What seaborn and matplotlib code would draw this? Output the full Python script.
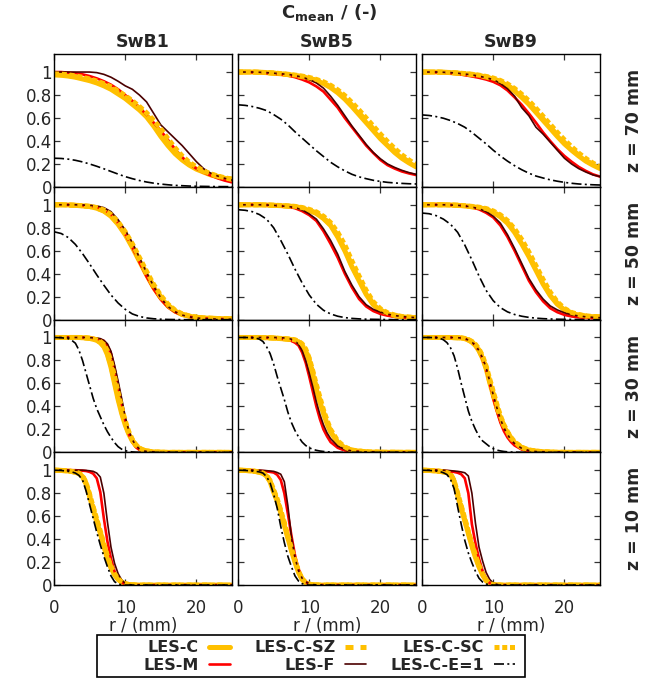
import matplotlib
matplotlib.use("Agg")
import matplotlib.pyplot as plt
from matplotlib.patches import Rectangle
import numpy as np
import pandas as pd
import seaborn as sns

# radial sampling positions (mm): uniform far from the nozzle, finer near it
R_FAR = [0, 1, 2, 3, 4, 5, 6, 7, 8, 9, 10, 11, 12, 13, 14, 15, 16, 17, 18, 19, 20, 21, 22, 23, 24, 25]
R_NEAR = [0, 1, 2, 2.5, 3, 3.5, 4, 4.5, 5, 5.5, 6, 6.5, 7, 7.5, 8, 8.5, 9, 9.5, 10, 10.5, 11, 11.5,
          12, 12.5, 13, 14, 15, 16, 18, 20, 25]
CASES = ["SwB1", "SwB5", "SwB9"]
HEIGHTS = ["z = 70 mm", "z = 50 mm", "z = 30 mm", "z = 10 mm"]
R_BY_HEIGHT = [R_FAR, R_FAR, R_NEAR, R_NEAR]
MODELS = ["LES-C", "LES-M", "LES-C-SZ", "LES-F", "LES-C-SC", "LES-C-E=1"]
Y_TICKS = [0, 0.2, 0.4, 0.6, 0.8, 1]
Y_TICK_LABELS = ["0", "0.2", "0.4", "0.6", "0.8", "1"]
X_TICKS = [0, 10, 20]

# ---- mean progress variable profiles, one list per case (SwB1, SwB5, SwB9) ----
# z = 70 mm
LES_C_Z70 = [
    [0.975, 0.972, 0.965, 0.955, 0.94, 0.925, 0.905, 0.88, 0.85, 0.81, 0.77, 0.72, 0.67, 0.61, 0.53, 0.44, 0.36, 0.29, 0.235, 0.19, 0.155, 0.13, 0.105, 0.09, 0.075, 0.065],
    [1, 1, 1, 0.998, 0.995, 0.99, 0.985, 0.978, 0.97, 0.96, 0.945, 0.925, 0.9, 0.865, 0.82, 0.765, 0.7, 0.63, 0.56, 0.49, 0.42, 0.36, 0.3, 0.25, 0.21, 0.175],
    [1, 1, 1, 0.998, 0.995, 0.99, 0.985, 0.978, 0.97, 0.955, 0.94, 0.915, 0.88, 0.835, 0.78, 0.72, 0.65, 0.58, 0.51, 0.44, 0.375, 0.32, 0.27, 0.225, 0.19, 0.16],
]
LES_C_SZ_Z70 = [
    [0.98, 0.977, 0.97, 0.96, 0.947, 0.932, 0.913, 0.89, 0.86, 0.82, 0.78, 0.735, 0.685, 0.625, 0.55, 0.465, 0.385, 0.31, 0.25, 0.2, 0.165, 0.135, 0.11, 0.092, 0.078, 0.067],
    [1, 1, 1, 0.998, 0.995, 0.99, 0.985, 0.978, 0.97, 0.96, 0.947, 0.928, 0.905, 0.872, 0.83, 0.775, 0.712, 0.645, 0.575, 0.505, 0.435, 0.372, 0.312, 0.26, 0.218, 0.182],
    [1, 1, 1, 0.998, 0.995, 0.99, 0.985, 0.978, 0.97, 0.957, 0.942, 0.918, 0.885, 0.842, 0.79, 0.73, 0.662, 0.592, 0.522, 0.452, 0.387, 0.33, 0.278, 0.232, 0.196, 0.165],
]
LES_C_SC_Z70 = [
    [0.985, 0.982, 0.976, 0.967, 0.955, 0.94, 0.922, 0.9, 0.872, 0.835, 0.795, 0.75, 0.7, 0.645, 0.58, 0.505, 0.42, 0.34, 0.27, 0.215, 0.175, 0.14, 0.115, 0.095, 0.08, 0.068],
    [1, 1, 1, 0.998, 0.996, 0.992, 0.987, 0.981, 0.974, 0.965, 0.953, 0.936, 0.915, 0.885, 0.845, 0.795, 0.735, 0.67, 0.6, 0.53, 0.46, 0.395, 0.335, 0.28, 0.235, 0.195],
    [1, 1, 1, 0.998, 0.996, 0.992, 0.987, 0.981, 0.973, 0.962, 0.948, 0.927, 0.897, 0.857, 0.807, 0.75, 0.685, 0.615, 0.545, 0.475, 0.41, 0.35, 0.295, 0.248, 0.208, 0.175],
]
LES_M_Z70 = [
    [1, 1, 0.995, 0.99, 0.98, 0.965, 0.945, 0.92, 0.89, 0.85, 0.8, 0.75, 0.69, 0.63, 0.56, 0.49, 0.41, 0.33, 0.26, 0.2, 0.16, 0.125, 0.1, 0.075, 0.055, 0.04],
    [1, 1, 0.998, 0.995, 0.99, 0.985, 0.978, 0.97, 0.955, 0.935, 0.91, 0.875, 0.83, 0.76, 0.69, 0.6, 0.52, 0.44, 0.36, 0.295, 0.235, 0.19, 0.16, 0.135, 0.118, 0.104],
    [1, 1, 0.998, 0.995, 0.99, 0.983, 0.973, 0.962, 0.95, 0.935, 0.915, 0.885, 0.84, 0.78, 0.715, 0.64, 0.56, 0.475, 0.4, 0.33, 0.27, 0.22, 0.175, 0.14, 0.11, 0.09],
]
LES_F_Z70 = [
    [1, 1, 1, 1, 1, 1, 0.995, 0.98, 0.955, 0.92, 0.88, 0.85, 0.8, 0.74, 0.64, 0.54, 0.48, 0.42, 0.36, 0.29, 0.22, 0.16, 0.12, 0.095, 0.075, 0.06],
    [1, 1, 1, 0.998, 0.995, 0.99, 0.985, 0.98, 0.97, 0.955, 0.935, 0.905, 0.86, 0.79, 0.71, 0.62, 0.53, 0.45, 0.37, 0.3, 0.245, 0.2, 0.17, 0.145, 0.125, 0.11],
    [1, 1, 1, 0.998, 0.995, 0.99, 0.983, 0.975, 0.965, 0.95, 0.935, 0.9, 0.855, 0.79, 0.69, 0.62, 0.52, 0.46, 0.39, 0.32, 0.25, 0.2, 0.16, 0.13, 0.105, 0.09],
]
LES_E1_Z70 = [
    [0.25, 0.248, 0.242, 0.232, 0.218, 0.2, 0.18, 0.158, 0.135, 0.112, 0.09, 0.072, 0.056, 0.043, 0.033, 0.025, 0.019, 0.014, 0.011, 0.008, 0.006, 0.005, 0.004, 0.003, 0.003, 0.002],
    [0.715, 0.71, 0.7, 0.685, 0.665, 0.63, 0.59, 0.54, 0.48, 0.425, 0.37, 0.315, 0.265, 0.215, 0.175, 0.14, 0.11, 0.088, 0.072, 0.058, 0.048, 0.04, 0.035, 0.031, 0.028, 0.026],
    [0.627, 0.622, 0.612, 0.598, 0.578, 0.552, 0.52, 0.475, 0.425, 0.375, 0.32, 0.27, 0.225, 0.185, 0.15, 0.12, 0.095, 0.078, 0.062, 0.05, 0.04, 0.032, 0.026, 0.022, 0.019, 0.017],
]

# z = 50 mm
LES_C_Z50 = [
    [1, 1, 0.998, 0.995, 0.99, 0.985, 0.97, 0.945, 0.9, 0.83, 0.74, 0.63, 0.51, 0.39, 0.28, 0.19, 0.12, 0.075, 0.045, 0.03, 0.02, 0.015, 0.012, 0.01, 0.008, 0.007],
    [1, 1, 1, 1, 0.998, 0.995, 0.992, 0.988, 0.985, 0.97, 0.95, 0.925, 0.88, 0.82, 0.72, 0.6, 0.46, 0.34, 0.22, 0.13, 0.08, 0.05, 0.035, 0.025, 0.02, 0.018],
    [1, 1, 1, 1, 0.998, 0.995, 0.99, 0.983, 0.975, 0.96, 0.935, 0.895, 0.84, 0.76, 0.66, 0.55, 0.43, 0.31, 0.21, 0.135, 0.085, 0.055, 0.04, 0.03, 0.026, 0.024],
]
LES_C_SZ_Z50 = [
    [1, 1, 0.998, 0.995, 0.99, 0.985, 0.972, 0.948, 0.905, 0.838, 0.75, 0.64, 0.52, 0.4, 0.29, 0.198, 0.126, 0.078, 0.047, 0.031, 0.021, 0.016, 0.012, 0.01, 0.008, 0.007],
    [1, 1, 1, 1, 0.998, 0.995, 0.992, 0.988, 0.984, 0.972, 0.953, 0.928, 0.886, 0.826, 0.73, 0.61, 0.472, 0.35, 0.23, 0.137, 0.084, 0.053, 0.037, 0.026, 0.021, 0.018],
    [1, 1, 1, 1, 0.998, 0.995, 0.99, 0.983, 0.975, 0.961, 0.937, 0.9, 0.847, 0.77, 0.672, 0.562, 0.442, 0.322, 0.22, 0.142, 0.09, 0.058, 0.042, 0.031, 0.027, 0.024],
]
LES_C_SC_Z50 = [
    [1, 1, 0.998, 0.996, 0.992, 0.987, 0.976, 0.955, 0.915, 0.85, 0.765, 0.66, 0.54, 0.42, 0.305, 0.21, 0.135, 0.083, 0.05, 0.033, 0.022, 0.016, 0.012, 0.01, 0.008, 0.007],
    [1, 1, 1, 1, 0.998, 0.996, 0.994, 0.99, 0.986, 0.976, 0.96, 0.938, 0.9, 0.845, 0.76, 0.65, 0.51, 0.38, 0.255, 0.155, 0.095, 0.06, 0.04, 0.028, 0.022, 0.019],
    [1, 1, 1, 1, 0.998, 0.996, 0.992, 0.986, 0.979, 0.967, 0.946, 0.912, 0.862, 0.79, 0.698, 0.59, 0.47, 0.35, 0.24, 0.155, 0.098, 0.063, 0.045, 0.033, 0.028, 0.025],
]
LES_M_Z50 = [
    [1, 1, 1, 0.998, 0.995, 0.99, 0.98, 0.96, 0.915, 0.84, 0.745, 0.63, 0.5, 0.375, 0.265, 0.175, 0.108, 0.065, 0.04, 0.025, 0.016, 0.011, 0.008, 0.006, 0.005, 0.004],
    [1, 1, 1, 1, 0.998, 0.995, 0.99, 0.983, 0.97, 0.945, 0.91, 0.86, 0.77, 0.66, 0.54, 0.4, 0.28, 0.18, 0.115, 0.075, 0.05, 0.035, 0.025, 0.02, 0.016, 0.013],
    [1, 1, 1, 1, 0.998, 0.995, 0.99, 0.978, 0.96, 0.93, 0.89, 0.82, 0.72, 0.6, 0.47, 0.34, 0.24, 0.16, 0.1, 0.065, 0.042, 0.028, 0.02, 0.015, 0.012, 0.01],
]
LES_F_Z50 = [
    [1, 1, 1, 1, 0.998, 0.995, 0.99, 0.975, 0.94, 0.87, 0.78, 0.67, 0.54, 0.41, 0.29, 0.19, 0.115, 0.068, 0.04, 0.024, 0.015, 0.01, 0.007, 0.005, 0.004, 0.003],
    [1, 1, 1, 1, 0.998, 0.995, 0.99, 0.985, 0.975, 0.955, 0.92, 0.875, 0.79, 0.69, 0.57, 0.42, 0.3, 0.2, 0.13, 0.09, 0.065, 0.048, 0.036, 0.028, 0.022, 0.018],
    [1, 1, 1, 1, 0.998, 0.995, 0.99, 0.98, 0.965, 0.94, 0.9, 0.84, 0.74, 0.62, 0.49, 0.36, 0.26, 0.18, 0.12, 0.085, 0.06, 0.042, 0.032, 0.025, 0.02, 0.017],
]
LES_E1_Z50 = [
    [0.765, 0.75, 0.715, 0.655, 0.575, 0.485, 0.39, 0.3, 0.215, 0.145, 0.09, 0.05, 0.028, 0.015, 0.008, 0.004, 0.002, 0.001, 0, 0, 0, 0, 0, 0, 0, 0],
    [0.957, 0.952, 0.94, 0.915, 0.875, 0.8, 0.69, 0.57, 0.44, 0.32, 0.215, 0.135, 0.082, 0.05, 0.03, 0.018, 0.011, 0.007, 0.004, 0.003, 0.002, 0.001, 0, 0, 0, 0],
    [0.928, 0.922, 0.905, 0.875, 0.83, 0.76, 0.65, 0.52, 0.38, 0.255, 0.165, 0.105, 0.068, 0.045, 0.03, 0.02, 0.013, 0.009, 0.006, 0.004, 0.003, 0.002, 0.001, 0, 0, 0],
]

# z = 30 mm
LES_C_Z30 = [
    [1, 1, 1, 1, 1, 1, 0.998, 0.996, 0.992, 0.985, 0.975, 0.955, 0.92, 0.85, 0.74, 0.6, 0.46, 0.34, 0.24, 0.16, 0.1, 0.06, 0.035, 0.02, 0.012, 0.004, 0.001, 0, 0, 0, 0],
    [1, 1, 1, 1, 1, 0.999, 0.998, 0.997, 0.995, 0.993, 0.99, 0.988, 0.985, 0.982, 0.975, 0.96, 0.93, 0.88, 0.8, 0.68, 0.55, 0.44, 0.34, 0.25, 0.18, 0.085, 0.04, 0.018, 0.004, 0.001, 0],
    [1, 1, 1, 1, 1, 1, 1, 0.999, 0.998, 0.996, 0.99, 0.978, 0.96, 0.93, 0.885, 0.82, 0.73, 0.61, 0.5, 0.39, 0.3, 0.225, 0.17, 0.12, 0.085, 0.04, 0.02, 0.01, 0.002, 0, 0],
]
LES_C_SZ_Z30 = [
    [1, 1, 1, 1, 1, 1, 0.998, 0.996, 0.993, 0.986, 0.977, 0.958, 0.925, 0.86, 0.755, 0.62, 0.48, 0.355, 0.25, 0.167, 0.105, 0.063, 0.037, 0.021, 0.012, 0.004, 0.001, 0, 0, 0, 0],
    [1, 1, 1, 1, 1, 0.999, 0.998, 0.997, 0.995, 0.993, 0.99, 0.988, 0.985, 0.982, 0.976, 0.962, 0.933, 0.886, 0.81, 0.69, 0.56, 0.45, 0.35, 0.26, 0.185, 0.088, 0.042, 0.019, 0.004, 0.001, 0],
    [1, 1, 1, 1, 1, 1, 1, 0.999, 0.998, 0.996, 0.99, 0.979, 0.962, 0.933, 0.89, 0.826, 0.738, 0.62, 0.51, 0.4, 0.31, 0.232, 0.175, 0.124, 0.088, 0.042, 0.021, 0.01, 0.002, 0, 0],
]
LES_C_SC_Z30 = [
    [1, 1, 1, 1, 1, 1, 0.999, 0.997, 0.994, 0.989, 0.98, 0.965, 0.94, 0.885, 0.79, 0.66, 0.52, 0.39, 0.275, 0.18, 0.112, 0.066, 0.038, 0.021, 0.012, 0.004, 0.001, 0, 0, 0, 0],
    [1, 1, 1, 1, 1, 0.999, 0.998, 0.997, 0.996, 0.994, 0.992, 0.99, 0.988, 0.985, 0.98, 0.968, 0.945, 0.9, 0.82, 0.71, 0.59, 0.48, 0.37, 0.28, 0.2, 0.1, 0.047, 0.02, 0.005, 0.001, 0],
    [1, 1, 1, 1, 1, 1, 1, 0.999, 0.998, 0.997, 0.992, 0.982, 0.966, 0.94, 0.9, 0.84, 0.75, 0.64, 0.53, 0.42, 0.32, 0.24, 0.18, 0.13, 0.092, 0.045, 0.022, 0.011, 0.002, 0, 0],
]
LES_M_Z30 = [
    [1, 1, 1, 1, 1, 1, 1, 0.999, 0.998, 0.995, 0.99, 0.982, 0.97, 0.93, 0.86, 0.73, 0.58, 0.43, 0.28, 0.16, 0.09, 0.045, 0.022, 0.01, 0.005, 0.001, 0, 0, 0, 0, 0],
    [1, 1, 1, 1, 1, 0.999, 0.998, 0.997, 0.995, 0.993, 0.99, 0.986, 0.98, 0.97, 0.955, 0.93, 0.87, 0.78, 0.66, 0.53, 0.4, 0.29, 0.2, 0.14, 0.09, 0.04, 0.016, 0.007, 0.002, 0, 0],
    [1, 1, 1, 1, 1, 1, 1, 0.999, 0.998, 0.996, 0.99, 0.978, 0.96, 0.93, 0.88, 0.81, 0.72, 0.6, 0.47, 0.36, 0.26, 0.185, 0.13, 0.09, 0.06, 0.025, 0.01, 0.004, 0, 0, 0],
]
LES_F_Z30 = [
    [1, 1, 1, 1, 1, 1, 1, 1, 0.999, 0.997, 0.995, 0.99, 0.975, 0.945, 0.88, 0.76, 0.62, 0.47, 0.31, 0.19, 0.11, 0.06, 0.03, 0.015, 0.008, 0.002, 0, 0, 0, 0, 0],
    [1, 1, 1, 1, 1, 1, 1, 1, 1, 0.999, 0.998, 0.996, 0.992, 0.985, 0.97, 0.94, 0.885, 0.8, 0.69, 0.57, 0.44, 0.33, 0.24, 0.17, 0.12, 0.055, 0.026, 0.012, 0.003, 0.001, 0],
    [1, 1, 1, 1, 1, 1, 1, 0.999, 0.998, 0.996, 0.99, 0.978, 0.96, 0.93, 0.885, 0.82, 0.74, 0.62, 0.5, 0.39, 0.29, 0.215, 0.155, 0.11, 0.077, 0.035, 0.016, 0.007, 0.001, 0, 0],
]
LES_E1_Z30 = [
    [1, 0.998, 0.99, 0.975, 0.95, 0.89, 0.8, 0.69, 0.58, 0.47, 0.38, 0.31, 0.24, 0.18, 0.13, 0.085, 0.05, 0.028, 0.015, 0.008, 0.004, 0.002, 0.001, 0, 0, 0, 0, 0, 0, 0, 0],
    [1, 1, 0.998, 0.995, 0.985, 0.965, 0.92, 0.86, 0.77, 0.66, 0.56, 0.46, 0.35, 0.26, 0.19, 0.135, 0.09, 0.06, 0.04, 0.027, 0.018, 0.012, 0.008, 0.005, 0.003, 0.001, 0, 0, 0, 0, 0],
    [1, 1, 0.998, 0.993, 0.98, 0.955, 0.91, 0.84, 0.73, 0.6, 0.48, 0.36, 0.27, 0.2, 0.14, 0.1, 0.075, 0.05, 0.032, 0.02, 0.013, 0.008, 0.005, 0.003, 0.002, 0.001, 0, 0, 0, 0, 0],
]

# z = 10 mm
LES_C_Z10 = [
    [1, 0.998, 0.993, 0.988, 0.982, 0.97, 0.945, 0.88, 0.77, 0.66, 0.55, 0.45, 0.34, 0.23, 0.15, 0.09, 0.05, 0.025, 0.012, 0.005, 0.002, 0.001, 0, 0, 0, 0, 0, 0, 0, 0, 0],
    [1, 0.998, 0.993, 0.988, 0.982, 0.972, 0.95, 0.9, 0.81, 0.73, 0.63, 0.52, 0.41, 0.3, 0.2, 0.11, 0.05, 0.02, 0.008, 0.003, 0.001, 0, 0, 0, 0, 0, 0, 0, 0, 0, 0],
    [1, 0.998, 0.993, 0.99, 0.985, 0.978, 0.965, 0.9, 0.78, 0.67, 0.56, 0.45, 0.34, 0.24, 0.16, 0.09, 0.04, 0.012, 0.004, 0.001, 0, 0, 0, 0, 0, 0, 0, 0, 0, 0, 0],
]
LES_C_SZ_Z10 = [
    [1, 0.998, 0.993, 0.989, 0.983, 0.972, 0.948, 0.886, 0.78, 0.67, 0.56, 0.46, 0.35, 0.24, 0.156, 0.094, 0.052, 0.026, 0.012, 0.005, 0.002, 0.001, 0, 0, 0, 0, 0, 0, 0, 0, 0],
    [1, 0.998, 0.993, 0.989, 0.983, 0.974, 0.953, 0.905, 0.82, 0.74, 0.64, 0.53, 0.42, 0.31, 0.21, 0.115, 0.053, 0.021, 0.008, 0.003, 0.001, 0, 0, 0, 0, 0, 0, 0, 0, 0, 0],
    [1, 0.998, 0.993, 0.99, 0.986, 0.979, 0.966, 0.905, 0.79, 0.68, 0.57, 0.46, 0.35, 0.25, 0.165, 0.093, 0.042, 0.013, 0.004, 0.001, 0, 0, 0, 0, 0, 0, 0, 0, 0, 0, 0],
]
LES_C_SC_Z10 = [
    [1, 0.998, 0.994, 0.99, 0.985, 0.975, 0.952, 0.893, 0.79, 0.68, 0.575, 0.47, 0.36, 0.25, 0.163, 0.098, 0.055, 0.027, 0.013, 0.005, 0.002, 0.001, 0, 0, 0, 0, 0, 0, 0, 0, 0],
    [1, 0.998, 0.994, 0.99, 0.985, 0.976, 0.956, 0.91, 0.83, 0.75, 0.65, 0.545, 0.43, 0.32, 0.215, 0.12, 0.056, 0.022, 0.009, 0.003, 0.001, 0, 0, 0, 0, 0, 0, 0, 0, 0, 0],
    [1, 0.998, 0.994, 0.991, 0.987, 0.98, 0.968, 0.91, 0.8, 0.69, 0.58, 0.47, 0.36, 0.26, 0.17, 0.097, 0.044, 0.014, 0.004, 0.001, 0, 0, 0, 0, 0, 0, 0, 0, 0, 0, 0],
]
LES_M_Z10 = [
    [1, 1, 1, 1, 1, 0.998, 0.996, 0.993, 0.985, 0.97, 0.93, 0.81, 0.58, 0.38, 0.23, 0.12, 0.055, 0.022, 0.008, 0.003, 0.001, 0, 0, 0, 0, 0, 0, 0, 0, 0, 0],
    [1, 1, 1, 0.998, 0.996, 0.993, 0.99, 0.985, 0.98, 0.96, 0.915, 0.8, 0.62, 0.43, 0.26, 0.14, 0.065, 0.028, 0.01, 0.003, 0.001, 0, 0, 0, 0, 0, 0, 0, 0, 0, 0],
    [1, 1, 1, 0.998, 0.996, 0.993, 0.99, 0.985, 0.978, 0.965, 0.93, 0.8, 0.53, 0.365, 0.23, 0.125, 0.055, 0.018, 0.006, 0.002, 0, 0, 0, 0, 0, 0, 0, 0, 0, 0, 0],
]
LES_F_Z10 = [
    [1, 1, 1, 1, 1, 1, 1, 0.998, 0.995, 0.99, 0.975, 0.94, 0.8, 0.55, 0.33, 0.19, 0.1, 0.045, 0.015, 0.005, 0.001, 0, 0, 0, 0, 0, 0, 0, 0, 0, 0],
    [1, 1, 1, 1, 1, 0.998, 0.996, 0.993, 0.99, 0.98, 0.965, 0.9, 0.69, 0.42, 0.24, 0.125, 0.06, 0.028, 0.013, 0.005, 0.002, 0, 0, 0, 0, 0, 0, 0, 0, 0, 0],
    [1, 1, 1, 1, 1, 0.998, 0.996, 0.993, 0.99, 0.985, 0.978, 0.95, 0.8, 0.54, 0.33, 0.21, 0.11, 0.05, 0.018, 0.006, 0.002, 0, 0, 0, 0, 0, 0, 0, 0, 0, 0],
]
LES_E1_Z10 = [
    [1, 0.998, 0.99, 0.985, 0.975, 0.955, 0.915, 0.82, 0.7, 0.58, 0.46, 0.35, 0.25, 0.16, 0.08, 0.03, 0.01, 0.003, 0, 0, 0, 0, 0, 0, 0, 0, 0, 0, 0, 0, 0],
    [1, 0.998, 0.993, 0.99, 0.985, 0.975, 0.945, 0.89, 0.79, 0.67, 0.51, 0.37, 0.25, 0.16, 0.08, 0.035, 0.012, 0.003, 0, 0, 0, 0, 0, 0, 0, 0, 0, 0, 0, 0, 0],
    [1, 0.998, 0.993, 0.988, 0.978, 0.962, 0.92, 0.84, 0.68, 0.53, 0.39, 0.28, 0.195, 0.12, 0.06, 0.027, 0.01, 0.003, 0, 0, 0, 0, 0, 0, 0, 0, 0, 0, 0, 0, 0],
]

PROFILES = {
    "LES-C": [LES_C_Z70, LES_C_Z50, LES_C_Z30, LES_C_Z10],
    "LES-M": [LES_M_Z70, LES_M_Z50, LES_M_Z30, LES_M_Z10],
    "LES-C-SZ": [LES_C_SZ_Z70, LES_C_SZ_Z50, LES_C_SZ_Z30, LES_C_SZ_Z10],
    "LES-F": [LES_F_Z70, LES_F_Z50, LES_F_Z30, LES_F_Z10],
    "LES-C-SC": [LES_C_SC_Z70, LES_C_SC_Z50, LES_C_SC_Z30, LES_C_SC_Z10],
    "LES-C-E=1": [LES_E1_Z70, LES_E1_Z50, LES_E1_Z30, LES_E1_Z10],
}

GOLD = "#FFC000"
STYLES = {
    "LES-C": dict(color=GOLD, linewidth=3.6, linestyle="-"),
    "LES-M": dict(color="#FF0000", linewidth=1.9, linestyle="-"),
    "LES-C-SZ": dict(color=GOLD, linewidth=3.6, linestyle=(0, (1.6, 1.4))),
    "LES-F": dict(color="#4B0000", linewidth=1.2, linestyle="-"),
    "LES-C-SC": dict(color=GOLD, linewidth=3.6, linestyle=(0, (1.0, 0.55))),
    "LES-C-E=1": dict(color="black", linewidth=1.2, linestyle=(0, (6, 2, 1.2, 2))),
}

# long-form table of every profile
records = []
for model in MODELS:
    for i, height in enumerate(HEIGHTS):
        for j, case in enumerate(CASES):
            for r, c in zip(R_BY_HEIGHT[i], PROFILES[model][i][j]):
                records.append((model, height, case, r, c))
df = pd.DataFrame(records, columns=["model", "height", "case", "r", "C"])

sns.set_theme(style="ticks")
plt.rcParams["font.family"] = ["DejaVu Sans"]
plt.rcParams["mathtext.fontset"] = "dejavusans"
plt.rcParams["axes.linewidth"] = 1.0
plt.rcParams["axes.edgecolor"] = "black"

fig, axes = plt.subplots(4, 3, figsize=(6.59, 6.78), dpi=100, sharex=True, sharey=True)
fig.subplots_adjust(left=0.082, right=0.9105, top=0.920, bottom=0.137, wspace=0.034, hspace=0)

for i, height in enumerate(HEIGHTS):
    for j, case in enumerate(CASES):
        ax = axes[i, j]
        for model in MODELS:
            sub = df[(df["model"] == model) & (df["height"] == height) & (df["case"] == case)]
            sns.lineplot(data=sub, x="r", y="C", ax=ax, estimator=None, sort=False,
                         legend=False, **STYLES[model])
        ax.set_xlim(0, 25)
        ax.set_ylim(0, 1.155)
        ax.set_xticks(X_TICKS)
        ax.set_yticks(Y_TICKS)
        ax.set_yticklabels(Y_TICK_LABELS)
        ax.tick_params(direction="in", top=True, right=True, length=4.5, width=0.9,
                       color="#333333", labelsize=12)
        ax.tick_params(axis="x", pad=10)
        ax.tick_params(axis="y", pad=1.5)
        ax.set_xlabel("r / (mm)" if i == len(HEIGHTS) - 1 else "", fontsize=12, labelpad=0)
        ax.set_ylabel("")
        if i == 0:
            ax.set_title(case, fontsize=12.5, fontweight="bold", pad=5)
    # height label on the right of each row
    pos = axes[i, -1].get_position()
    fig.text(0.962, (pos.y0 + pos.y1) / 2, height, rotation=90, ha="center", va="center",
             fontsize=12.5, fontweight="bold")

fig.text(0.5, 0.981, r"$\mathbf{C_{mean}}$ / (-)", ha="center", va="center",
         fontsize=13, fontweight="bold")

# shared legend: label text first, then the line sample
handles = axes[0, 0].get_lines()[:len(MODELS)]
leg = fig.legend(handles, MODELS, loc="center right", bbox_to_anchor=(0.782, 0.0317), ncol=3,
                 markerfirst=False, frameon=False, handlelength=1.35, handletextpad=0.6,
                 columnspacing=1.5, labelspacing=0.15, borderpad=0.0, borderaxespad=0.0,
                 prop=dict(weight="bold", size=11.5))
# box around the legend
fig.patches.append(Rectangle((0.1472, 0.0022), 0.6495, 0.0612, transform=fig.transFigure,
                             fill=False, edgecolor="black", linewidth=1.2, zorder=5))

fig.savefig("out.png", dpi=100)
